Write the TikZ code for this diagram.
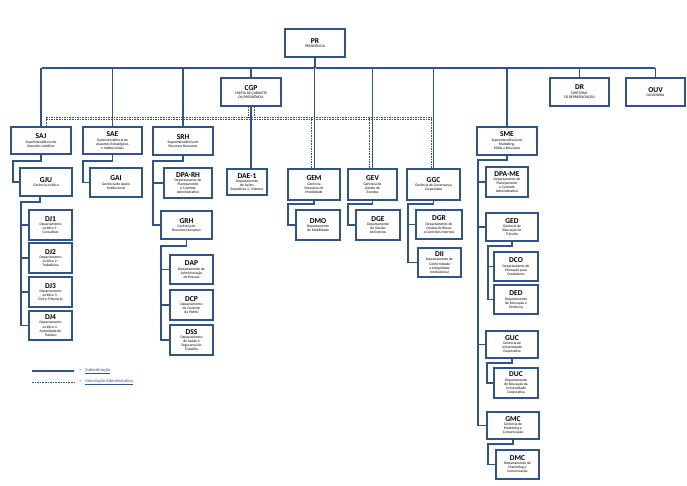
\documentclass[tikz,border=0pt]{standalone}
\usepackage{fontspec}
\setmainfont{Carlito}
\usetikzlibrary{shadows}
\definecolor{ln}{RGB}{47,84,140}
\tikzset{
  box/.style={draw=ln, line width=1.1pt, fill=white, inner sep=0.5pt, align=center,
    font=\fontsize{3.7}{4.1}\selectfont,
    drop shadow={opacity=0.35, shadow xshift=0.8pt, shadow yshift=-0.8pt}},
  con/.style={draw=ln, line width=1.1pt},
  dsh/.style={draw=ln, line width=0.9pt, dash pattern=on 1.6pt off 1pt},
}
\newcommand\obox[7]{%
  \node[box, minimum width={(#4-#2)*1pt}, minimum height={(#5-#3)*1pt}]
    (#1) at ({(#2+#4)/2},{(#3+#5)/2})
    {{\fontsize{7.5}{7.5}\selectfont\bfseries #6}\\[0.3pt]#7};}
\begin{document}
\begin{tikzpicture}[x=1pt,y=-1pt]
\useasboundingbox[fill=white] (0,0) rectangle (687,486);
% top
\obox{PR}{285}{29}{345}{57}{PR}{PRESIDÊNCIA}
\obox{CGP}{221}{78}{281}{106}{CGP}{CHEFIA DE GABINETE\\DA PRESIDÊNCIA}
\obox{DR}{550}{78}{609}{106}{DR}{DIRETORIA\\DE REPRESENTAÇÃO}
\obox{OUV}{626}{78}{685}{106}{OUV}{OUVIDORIA}
% row 2
\obox{SAJ}{11}{127}{71}{154}{SAJ}{Superintendência de\\Assuntos Jurídicos}
\obox{SAE}{83}{127}{142}{154}{SAE}{Superintendência de\\Assuntos Estratégicos\\e Institucionais}
\obox{SRH}{153}{127}{213}{155}{SRH}{Superintendência de\\Recursos Humanos}
\obox{SME}{477}{127}{537}{155}{SME}{Superintendência de\\Marketing,\\Mídia e Educação}
\obox{DAE}{227}{169}{267}{195}{DAE-1}{Departamento\\de Ações\\Executivas 1 - Externo}
\obox{GEM}{288}{169}{340}{200}{GEM}{Gerência\\Executiva de\\Mobilidade}
\obox{GEV}{348}{169}{397}{200}{GEV}{Gerência de\\Gestão de\\Eventos}
\obox{GGC}{407}{169}{460}{200}{GGC}{Gerência de Governança\\Corporativa}
% SAJ branch
\obox{GJU}{20}{168}{72}{196}{GJU}{Gerência Jurídica}
\obox{DJ1}{29}{210}{72}{240}{DJ1}{Departamento\\Jurídico 1 -\\Consultivo}
\obox{DJ2}{29}{243}{72}{273}{DJ2}{Departamento\\Jurídico 2 -\\Trabalhista}
\obox{DJ3}{29}{277}{72}{307}{DJ3}{Departamento\\Jurídico 3 -\\Civil e Tributário}
\obox{DJ4}{29}{311}{72}{340}{DJ4}{Departamento\\Jurídico 4 -\\Autoridade de\\Trânsito}
\obox{GAI}{90}{168}{142}{197}{GAI}{Gerência de Apoio\\Institucional}
% SRH branch
\obox{DPARH}{164}{168}{212}{198}{DPA-RH}{Departamento de\\Planejamento\\e Controle\\Administrativo}
\obox{GRH}{161}{211}{212}{239}{GRH}{Gerência de\\Recursos Humanos}
\obox{DAP}{170}{255}{213}{284}{DAP}{Departamento de\\Administração\\de Pessoal}
\obox{DCP}{170}{290}{213}{320}{DCP}{Departamento\\de Controle\\do PAMO}
\obox{DSS}{170}{325}{213}{355}{DSS}{Departamento\\de Saúde e\\Segurança do\\Trabalho}
% middle
\obox{DMO}{296}{210}{340}{240}{DMO}{Departamento\\de Mobilidade}
\obox{DGE}{356}{210}{400}{240}{DGE}{Departamento\\de Gestão\\de Eventos}
\obox{DGR}{416}{210}{462}{239}{DGR}{Departamento de\\Gestão de Riscos\\e Controles Internos}
\obox{DII}{418}{248}{461}{277}{DII}{Departamento de\\Conformidade\\e Integridade\\Institucional}
% SME branch
\obox{DPAME}{486}{167}{528}{197}{DPA-ME}{Departamento de\\Planejamento\\e Controle\\Administrativo}
\obox{GED}{486}{213}{538}{241}{GED}{Gerência de\\Educação de\\Trânsito}
\obox{DCO}{494}{252}{538}{281}{DCO}{Departamento de\\Educação para\\Condutores}
\obox{DED}{494}{285}{538}{314}{DED}{Departamento\\de Educação à\\Distância}
\obox{GUC}{486}{331}{538}{358}{GUC}{Gerência de\\Universidade\\Corporativa}
\obox{DUC}{494}{368}{538}{398}{DUC}{Departamento\\de Educação da\\Universidade\\Corporativa}
\obox{GMC}{487}{412}{539}{439}{GMC}{Gerência de\\Marketing e\\Comunicação}
\obox{DMC}{496}{450}{539}{479}{DMC}{Departamento de\\Marketing e\\Comunicação}
% coordinates
\coordinate (busL) at (42,68);
\coordinate (busR) at (655,68);
\coordinate (dL) at (46,117);
\coordinate (dR) at (431,117);
% top bus
\draw[con] (busL) -- (busR);
\draw[con] (PR.south) -- (PR.south |- busL);
\foreach \n in {SAJ,SAE,SRH,CGP,GEV,GGC,SME,DR,OUV}
  \draw[con] (\n.north) -- (\n.north |- busL);
\draw[ln, line width=0.8pt, double=white, double distance=0.9pt] (PR.south |- busL) -- (GEM.north -| PR.south);
\draw[con] (CGP.south) -- (DAE.north -| CGP.south);
% dashed
\coordinate (c1) at ([xshift=-3pt]CGP.south);
\coordinate (c2) at ([xshift=3pt]CGP.south);
\draw[dsh] (c1) -- (c1 |- dL);
\draw[dsh] (c2) -- (c2 |- dL);
\draw[dsh] (dL) -- (dR);
\draw[dsh] ([yshift=-2.5pt]dL) -- ([yshift=-2.5pt]dR);
\draw[dsh] (dL) -- (dL |- SAJ.north);
\coordinate (g1) at (311,0);
\coordinate (g2) at (369,0);
\draw[dsh] (g1 |- dL) -- (g1 |- GEM.north);
\draw[dsh] (g2 |- dL) -- (g2 |- GEV.north);
\draw[dsh] (dR) -- (dR |- GGC.north);
% elbows
\coordinate (xa) at (13,161);
\draw[con] (SAJ.south) |- (xa) |- (GJU.west);
\coordinate (xb) at (21,202);
\draw[con] ([xshift=-6pt]GJU.south) |- (xb) |- (DJ4.west);
\foreach \n in {DJ1,DJ2,DJ3} \draw[con] (\n.west) -- (\n.west -| xb);
\coordinate (xc) at (83,161);
\draw[con] (SAE.south) |- (xc) |- (GAI.west);
\coordinate (xd) at (153,161);
\draw[con] (SRH.south) |- (xd) |- (GRH.west);
\draw[con] (DPARH.west) -- (DPARH.west -| xd);
\coordinate (xe) at (161,246);
\draw[con] (GRH.south) |- (xe) |- (DSS.west);
\foreach \n in {DAP,DCP} \draw[con] (\n.west) -- (\n.west -| xe);
\coordinate (xf) at (288,204);
\draw[con] (GEM.south) |- (xf) |- (DMO.west);
\coordinate (xg) at (348,204);
\draw[con] (GEV.south) |- (xg) |- (DGE.west);
\coordinate (xh) at (408,204);
\draw[con] (GGC.south) |- (xh) |- (DII.west);
\draw[con] (DGR.west) -- (DGR.west -| xh);
\coordinate (xi) at (478,160);
\draw[con] (SME.south) |- (xi) |- (GMC.west);
\foreach \n in {DPAME,GED,GUC} \draw[con] (\n.west) -- (\n.west -| xi);
\coordinate (xj) at (488,246);
\draw[con] (GED.south) |- (xj) |- (DED.west);
\draw[con] (DCO.west) -- (DCO.west -| xj);
\coordinate (xk) at (487,363);
\draw[con] (GUC.south) |- (xk) |- (DUC.west);
\coordinate (xl) at (488,444);
\draw[con] (GMC.south) |- (xl) |- (DMC.west);
% legend
\coordinate (l1) at (32,371);
\coordinate (l2) at (32,382);
\draw[con] (l1) -- ++(42,0);
\draw[dsh] (l2) -- ++(42,0);
\node[anchor=west, inner sep=0, text=ln, font=\fontsize{4.5}{5}\selectfont] (t1) at (79,371) {>\hspace{4pt}\underline{Subordinação}};
\node[anchor=west, inner sep=0, text=ln, font=\fontsize{4.5}{5}\selectfont] (t2) at (79,382) {>\hspace{4pt}\underline{Vinculação Administrativa}};
\end{tikzpicture}
\end{document}
